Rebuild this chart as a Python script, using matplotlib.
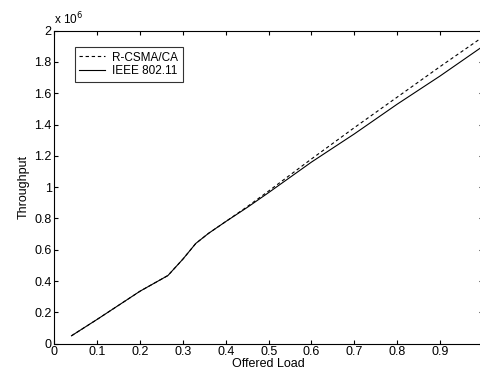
import numpy as np
import matplotlib.pyplot as plt

plt.rcParams['font.family'] = ['Liberation Sans', 'DejaVu Sans']

load = [0.04, 0.1, 0.2, 0.265, 0.3, 0.33, 0.36, 0.4, 0.45, 0.5, 0.6, 0.7, 0.8, 0.9, 1.0]
rcsma = [0.05, 0.155, 0.335, 0.435, 0.54, 0.64, 0.705, 0.78, 0.875, 0.975, 1.18, 1.38, 1.575, 1.77, 1.96]
ieee = [0.05, 0.155, 0.335, 0.435, 0.54, 0.64, 0.705, 0.78, 0.87, 0.965, 1.16, 1.34, 1.53, 1.71, 1.90]

fig = plt.figure(figsize=(4.81, 3.78), dpi=100)
ax = fig.add_axes([0.113, 0.091, 0.891, 0.828])

ax.plot(load, rcsma, 'k--', lw=0.8, dashes=(3, 2.5), label='R-CSMA/CA')
ax.plot(load, ieee, 'k-', lw=0.8, label='IEEE 802.11')

ax.set_xlim(0, 1)
ax.set_ylim(0, 2)
ax.set_xticks(np.arange(0, 1.0, 0.1))
ax.set_xticklabels(['0', '0.1', '0.2', '0.3', '0.4', '0.5', '0.6', '0.7', '0.8', '0.9'])
ax.set_yticks(np.arange(0, 2.01, 0.2))
ax.set_yticklabels(['0', '0.2', '0.4', '0.6', '0.8', '1', '1.2', '1.4', '1.6', '1.8', '2'])
ax.tick_params(direction='in', top=True, right=True, labelsize=9, length=3, width=0.8, pad=2)
for s in ax.spines.values():
    s.set_linewidth(0.8)

ax.text(0.0, 1.012, r'x 10$^6$', transform=ax.transAxes, fontsize=8.5, ha='left', va='bottom')
ax.set_xlabel('Offered Load', fontsize=9, labelpad=0)
ax.set_ylabel('Throughput', fontsize=9, labelpad=3)

leg = ax.legend(loc='upper left', fontsize=8.5, fancybox=False, edgecolor='k',
                bbox_to_anchor=(0.035, 0.965), handlelength=2.2, borderpad=0.35,
                labelspacing=0.15, handletextpad=0.6)
leg.get_frame().set_linewidth(0.8)

fig.savefig('out.png', dpi=100)
